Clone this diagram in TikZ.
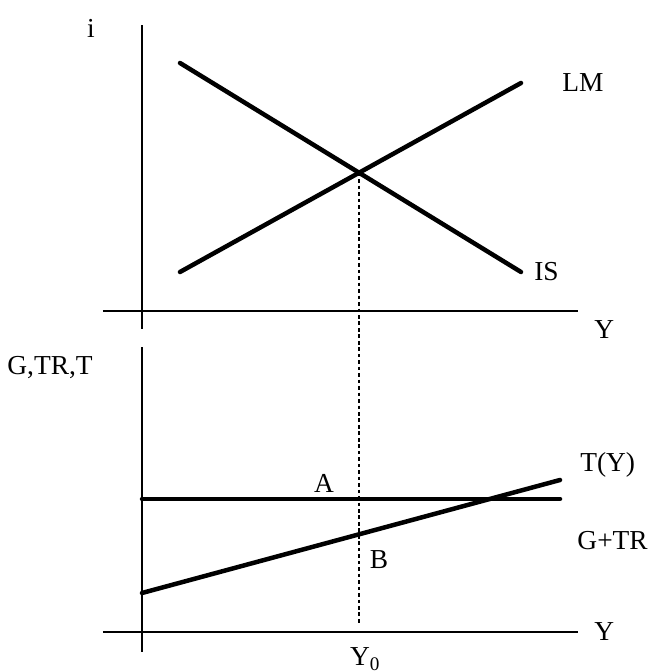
\documentclass[tikz,border=0pt]{standalone}
\usepackage{fontspec}
\setmainfont{Liberation Serif}
\usetikzlibrary{positioning}
\usetikzlibrary{calc}

\begin{document}
\begin{tikzpicture}[
    axis/.style={line width=1.5pt},
    curve/.style={line width=3.2pt, line cap=round},
    guide/.style={line width=1.2pt, dash pattern=on 2.6pt off 2pt},
    lbl/.style={font=\fontsize{19.5}{22}\selectfont, inner sep=0pt}
]
    \useasboundingbox (-3.55,-0.975) rectangle (12.65,15.8);

    % upper panel: IS-LM
    \coordinate (ibot) at (0, 7.575);
    \coordinate (itop) at (0, 15.175);
    \coordinate (yleft) at (-0.975, 8.025);
    \coordinate (yright) at (10.9, 8.025);
    \draw[axis] (ibot) -- (itop);
    \draw[axis] (yleft) -- (yright);

    \coordinate (isa) at (0.95, 14.225);
    \coordinate (isb) at (9.475, 9.0);
    \coordinate (lma) at (0.95, 9.0);
    \coordinate (lmb) at (9.475, 13.725);
    \draw[curve] (isa) -- (isb);
    \draw[curve] (lma) -- (lmb);

    \node[lbl] (i) at (-1.275, 15.1) {i};
    \node[lbl, right] (lm) at (10.5, 13.725) {LM};
    \node[lbl, right] (is) at (9.8, 9.0) {IS};
    \node[lbl, right] (ytop) at (11.3, 7.55) {Y};

    % lower panel: budget
    \coordinate (gbot) at (0, -0.5);
    \coordinate (gtop) at (0, 7.125);
    \coordinate (xleft) at (-0.975, 0);
    \coordinate (xright) at (10.9, 0);
    \draw[axis] (gbot) -- (gtop);
    \draw[axis] (xleft) -- (xright);

    \coordinate (ga) at (0, 3.325);
    \coordinate (gb) at (10.45, 3.325);
    \coordinate (ta) at (0, 0.975);
    \coordinate (tb) at (10.45, 3.8);
    \draw[curve] (ga) -- (gb);
    \draw[curve] (ta) -- (tb);

    \node[lbl] (gtrt) at (-2.3, 6.6) {G,TR,T};
    \node[lbl] (a) at (4.55, 3.725) {A};
    \node[lbl] (b) at (5.925, 1.8) {B};
    \node[lbl, right] (ty) at (10.95, 4.175) {T(Y)};
    \node[lbl, right] (gtr) at (10.88, 2.275) {G+TR};
    \node[lbl, right] (ybot) at (11.3, 0) {Y};

    % equilibrium income
    \coordinate (eq) at (intersection of isa--isb and lma--lmb);
    \coordinate (foot) at ($(eq |- xleft) + (0, 0.175)$);
    \draw[guide] (eq) -- (foot);
    \node[lbl] (y0) at ($(eq |- xleft) + (0.15, -0.68)$) {Y\textsubscript{0}};
\end{tikzpicture}
\end{document}
